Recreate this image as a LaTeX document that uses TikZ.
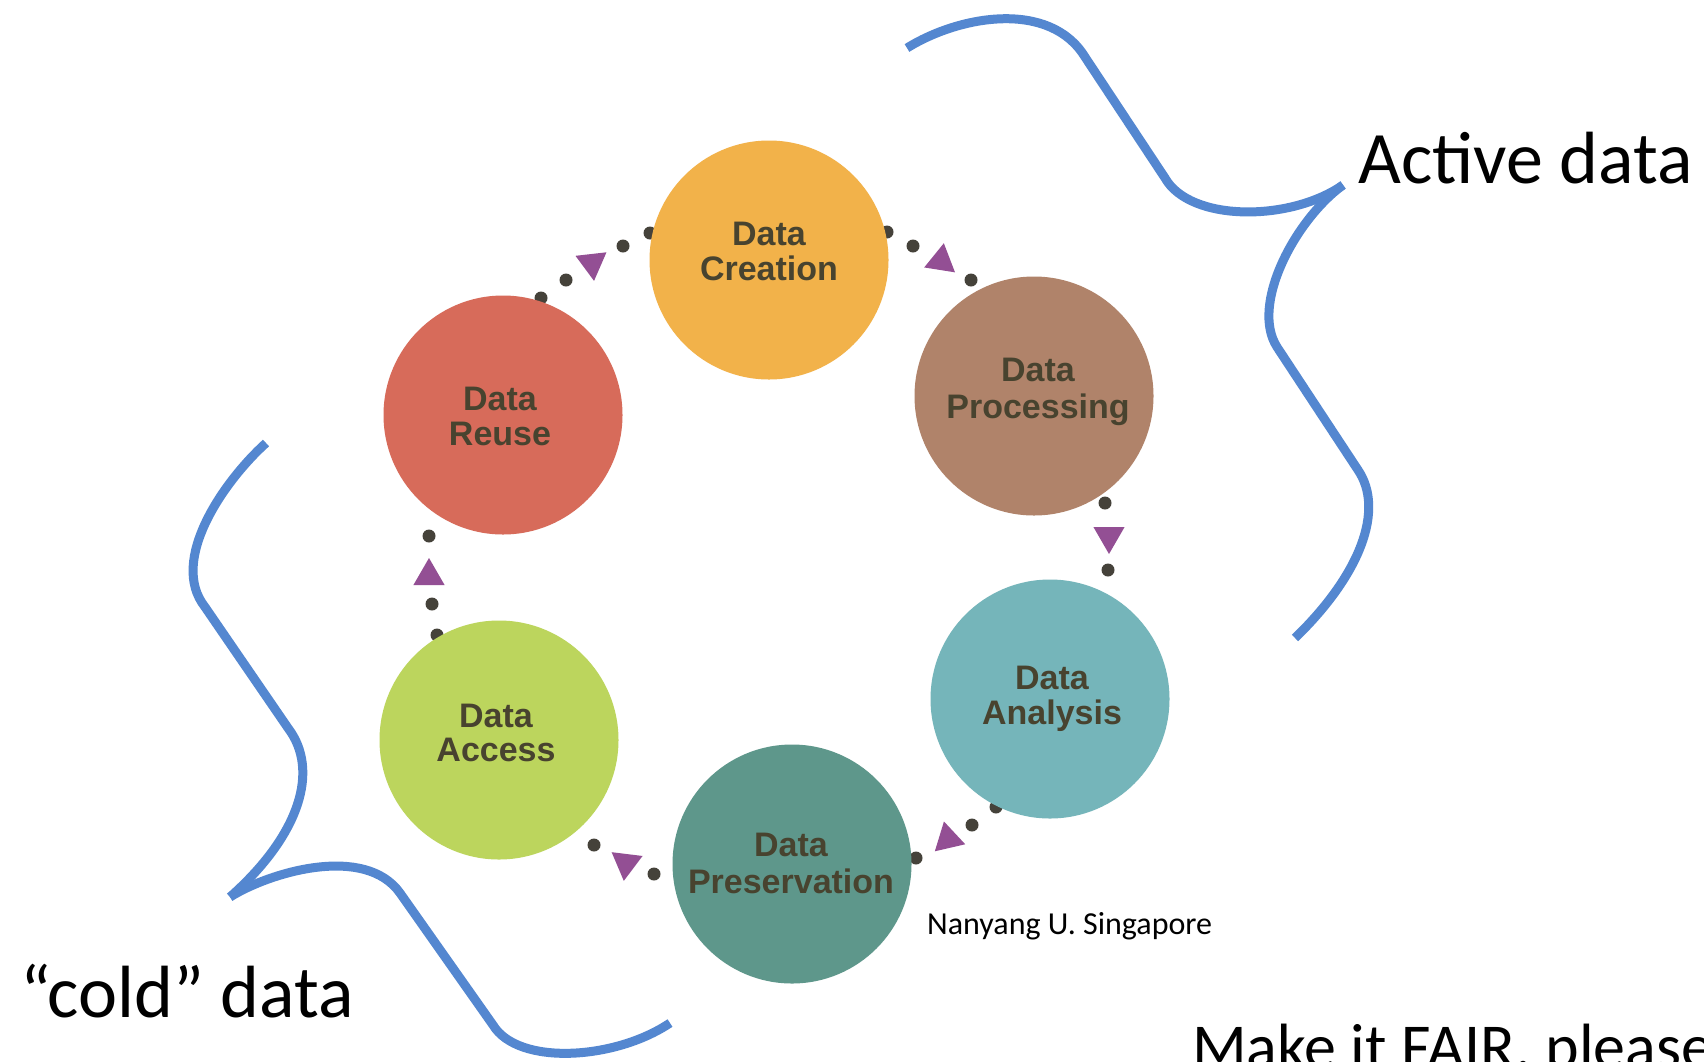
\documentclass[tikz,border=0pt]{standalone}
\usepackage{fontspec}
\setmainfont{Carlito}
\newfontfamily\lblfont{Liberation Sans}
\usetikzlibrary{shapes.geometric}
\definecolor{cCre}{HTML}{F2B24A}
\definecolor{cPro}{HTML}{B0836A}
\definecolor{cAna}{HTML}{75B5BA}
\definecolor{cPre}{HTML}{5E978B}
\definecolor{cAcc}{HTML}{BCD55D}
\definecolor{cReu}{HTML}{D76B5A}
\definecolor{txtc}{HTML}{48432F}
\definecolor{dotcol}{HTML}{45423A}
\definecolor{tricol}{HTML}{934F94}
\definecolor{bracecol}{HTML}{5487D0}
\begin{document}
\begin{tikzpicture}[x=1pt,y=-1pt,
  stage/.style={circle, minimum size=239pt, inner sep=0pt},
  lbl/.style={font=\lblfont\bfseries\fontsize{34}{36}\selectfont, text=txtc, anchor=base, inner sep=0pt},
  dotc/.style={fill=dotcol},
  tri/.style={regular polygon, regular polygon sides=3, minimum size=36pt, inner sep=0pt, fill=tricol},
  brace/.style={draw=bracecol, line width=9pt},
  big/.style={font=\fontsize{74}{80}\selectfont, anchor=base west, inner sep=0pt},
  mid/.style={font=\fontsize{64}{70}\selectfont, anchor=base west, inner sep=0pt},
  small/.style={font=\fontsize{32}{36}\selectfont, anchor=base west, inner sep=0pt}
]
\useasboundingbox (0,0) rectangle (1704,1061);
\clip (0,0) rectangle (1704,1061);
\fill[white] (0,0) rectangle (1704,1061);

% connector dots (drawn first, circles cover the partial ones)
% Reuse -> Creation
\fill[dotc] (541,298) circle[radius=6.5pt];
\fill[dotc] (566,280) circle[radius=6.5pt];
\fill[dotc] (623,246) circle[radius=6.5pt];
\fill[dotc] (650,233) circle[radius=6.5pt];
% Creation -> Processing
\fill[dotc] (887,232) circle[radius=6.5pt];
\fill[dotc] (913,246) circle[radius=6.5pt];
\fill[dotc] (971,280) circle[radius=6.5pt];
% Processing -> Analysis
\fill[dotc] (1105,503) circle[radius=6.5pt];
\fill[dotc] (1108,570) circle[radius=6.5pt];
% Analysis -> Preservation
\fill[dotc] (996,807) circle[radius=6.5pt];
\fill[dotc] (972,825) circle[radius=6.5pt];
\fill[dotc] (916,858) circle[radius=6.5pt];
% Preservation -> Access
\fill[dotc] (654,874) circle[radius=6.5pt];
\fill[dotc] (594,845) circle[radius=6.5pt];
% Access -> Reuse
\fill[dotc] (437,635) circle[radius=6.5pt];
\fill[dotc] (432,604) circle[radius=6.5pt];
\fill[dotc] (429,536) circle[radius=6.5pt];

% triangles
\node[tri, rotate=186.5] (t1) at (592,263) {};
\node[tri, rotate=-9] (t2) at (941,261) {};
\node[tri, rotate=180] (t3) at (1109,536) {};
\node[tri, rotate=13] (t4) at (948,839) {};
\node[tri, rotate=173] (t5) at (626,863) {};
\node[tri] (t6) at (429,576) {};

% stages
\node[stage, fill=cCre] (cre) at (769,260) {};
\node[stage, fill=cPro] (pro) at (1034,396) {};
\node[stage, fill=cAna] (ana) at (1050,699) {};
\node[stage, fill=cPre] (pre) at (792,864) {};
\node[stage, fill=cAcc] (acc) at (499,740) {};
\node[stage, fill=cReu] (reu) at (503,415) {};

% stage labels
\node[lbl] (cre1) at (769,245) {Data};
\node[lbl] (cre2) at (769,280) {Creation};
\node[lbl] (pro1) at (1038,381) {Data};
\node[lbl] (pro2) at (1038,418) {Processing};
\node[lbl] (ana1) at (1052,689) {Data};
\node[lbl] (ana2) at (1052,724) {Analysis};
\node[lbl] (pre1) at (791,856) {Data};
\node[lbl] (pre2) at (791,893) {Preservation};
\node[lbl] (acc1) at (496,727) {Data};
\node[lbl] (acc2) at (496,761) {Access};
\node[lbl] (reu1) at (500,410) {Data};
\node[lbl] (reu2) at (500,445) {Reuse};

% braces
\draw[brace] (907,48) .. controls (960,15) and (1050,0) .. (1085,57) -- (1165,178) .. controls (1190,222) and (1290,222) .. (1343,185);
\draw[brace] (1343,185) .. controls (1295,220) and (1250,305) .. (1277,347) -- (1358,470) .. controls (1385,510) and (1360,575) .. (1295,638);
\draw[brace] (266,443) .. controls (225,480) and (168,560) .. (205,607) -- (288,728) .. controls (320,770) and (300,835) .. (230,897);
\draw[brace] (230,897) .. controls (270,872) and (365,844) .. (400,893) -- (493,1025) .. controls (518,1066) and (615,1060) .. (670,1023);

% texts
\node[big] (active) at (1358,183) {Active data};
\node[big] (cold) at (20,1017) {“cold” data};
\node[mid] (fair) at (1192,1068) {Make it FAIR, please};
\node[small] (credit) at (927,934) {Nanyang U. Singapore};
\end{tikzpicture}
\end{document}
